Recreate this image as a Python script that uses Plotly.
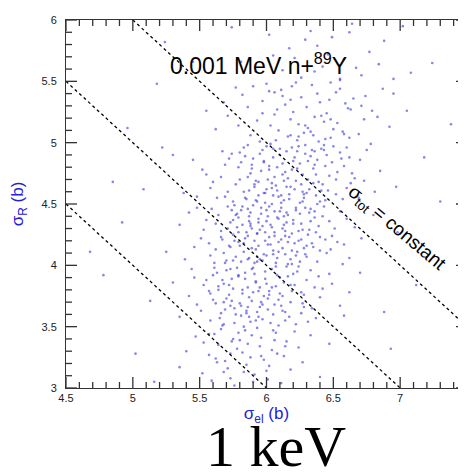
import numpy as np
import plotly.graph_objects as go

# ---- data ----
sigma_tot_const = [9.0, 10.0, 11.0]          # sigma_el + sigma_R = const lines
x_ticks = [4.5, 5, 5.5, 6, 6.5, 7, 7.5]
y_ticks = [3, 3.5, 4, 4.5, 5, 5.5, 6]

band_55_60 = [(6.42,5.62),(6.71,5.55),(6.05,5.71),(6.88,5.83),(6.33,5.91),(6.58,5.68),(5.92,5.58),(6.17,5.77),(6.95,5.52),(6.49,5.86),
              (6.26,5.53),(6.64,5.97),(5.81,5.66),(6.12,5.59),(6.77,5.74),(6.38,5.79),(6.55,5.51),(6.02,5.88),(6.84,5.64),(6.21,5.69),
              (5.74,5.94),(6.46,5.72),(6.67,5.61),(6.29,5.84),(7.08,5.57)]
band_50_55 = [(6.31,5.12),(6.08,5.27),(6.52,5.41),(5.88,5.06),(6.73,5.19),(6.19,5.46),(6.44,5.03),(5.97,5.34),(6.61,5.28),(6.26,5.37),
              (5.71,5.22),(6.87,5.44),(6.36,5.21),(6.03,5.14),(6.57,5.09),(6.14,5.31),(6.48,5.49),(5.82,5.39),(6.69,5.07),(6.23,5.02),
              (6.40,5.33),(5.93,5.18),(6.79,5.26),(6.11,5.43),(6.34,5.47),(5.62,5.11),(6.53,5.16),(6.00,5.48),(6.65,5.36),(6.28,5.08),
              (5.86,5.29),(6.45,5.24),(6.92,5.13),(6.16,5.05),(6.38,5.40),(5.77,5.45),(6.59,5.32),(6.06,5.23),(6.24,5.15),(6.74,5.38),
              (5.95,5.01),(6.50,5.11),(6.12,5.38),(6.83,5.21),(6.30,5.29),(5.68,5.33),(6.43,5.17),(6.02,5.42),(6.62,5.04),(6.20,5.25),
              (5.90,5.46),(6.55,5.44),(6.35,5.06),(6.09,5.10),(6.71,5.30),(5.79,5.14),(6.47,5.35),(6.18,5.19),(6.95,5.40),(5.55,5.26),
              (6.41,5.22),(6.18,5.35),(6.55,5.52),(6.29,5.14),(6.06,5.41),(6.63,5.27),(6.36,5.58),(5.97,5.24),(6.48,5.19),(6.22,5.49)]
band_45_50 = [(6.12,4.83),(5.87,4.61),(6.41,4.95),(5.66,4.72),(6.28,4.55),(6.05,4.88),(6.63,4.67),(5.93,4.52),(6.35,4.79),(6.18,4.64),
              (5.74,4.91),(6.52,4.58),(6.01,4.70),(6.24,4.97),(5.81,4.84),(6.47,4.73),(6.09,4.56),(5.58,4.63),(6.70,4.86),(6.32,4.62),
              (5.96,4.77),(6.15,4.93),(6.58,4.81),(5.85,4.54),(6.39,4.68),(6.03,4.99),(5.69,4.82),(6.27,4.74),(6.81,4.60),(6.11,4.51),
              (5.90,4.87),(6.44,4.53),(6.20,4.85),(5.77,4.66),(6.55,4.92),(6.07,4.65),(5.52,4.78),(6.33,4.89),(6.66,4.71),(5.99,4.59),
              (6.22,4.69),(5.83,4.96),(6.49,4.84),(6.14,4.76),(5.63,4.55),(6.37,4.57),(6.02,4.81),(6.75,4.94),(5.92,4.69),(6.29,4.91),
              (5.71,4.60),(6.60,4.63),(6.17,4.58),(5.88,4.75),(6.43,4.98),(6.06,4.72),(5.45,4.86),(6.26,4.66),(6.53,4.76),(5.97,4.94),
              (6.13,4.53),(5.79,4.80),(6.38,4.86),(6.00,4.62),(6.69,4.55),(5.86,4.98),(6.23,4.79),(5.60,4.68),(6.46,4.61),(6.10,4.90),
              (5.94,4.57),(6.31,4.70),(6.85,4.77),(5.75,4.52),(6.19,4.96),(6.57,4.54),(6.04,4.67),(5.84,4.89),(6.36,4.82),(5.67,4.93),
              (6.25,4.51),(6.62,4.88),(6.08,4.80),(5.91,4.64),(6.42,4.66),(5.38,4.59),(6.16,4.71),(6.73,4.69),(5.98,4.85),(6.30,4.59),
              (5.80,4.70),(6.50,4.97),(6.21,4.62),(5.72,4.87),(6.40,4.52),(6.05,4.95),(5.89,4.82),(6.64,4.75),(6.34,4.94),(5.55,4.74),
              (6.97,4.64),(5.30,4.90),(6.78,4.99),(5.48,4.56)]
core_46_51 = [(6.21,4.88),(6.04,4.63),(6.37,4.74),(5.95,4.91),(6.48,5.04),(6.13,4.69),(6.29,4.98),(5.86,4.72),(6.56,4.87),(6.18,5.06),
              (6.02,4.78),(6.41,4.61),(6.25,4.83),(5.91,4.66),(6.33,5.09),(6.10,4.95),(6.60,4.96),(5.83,4.60),(6.45,4.90),(6.15,4.64),
              (6.07,5.02),(6.35,4.67),(5.98,4.84),(6.52,4.70),(6.23,4.93),(6.39,5.01),(5.89,4.79),(6.12,4.74),(6.27,4.60),(6.44,4.81),
              (6.00,4.97),(6.31,4.85),(5.80,4.92),(6.19,4.78),(6.58,5.07),(6.08,4.61),(6.43,4.94),(6.24,5.05),(5.94,4.68),(6.36,4.93)]
band_40_45 = [(5.97,4.32),(6.21,4.18),(5.74,4.45),(6.08,4.06),(5.85,4.27),(6.36,4.39),(5.62,4.13),(6.02,4.48),(6.44,4.21),(5.91,4.02),
              (6.15,4.35),(5.79,4.19),(6.29,4.09),(5.55,4.37),(6.06,4.24),(5.88,4.43),(6.51,4.30),(5.70,4.04),(6.12,4.14),(5.94,4.38),
              (6.33,4.46),(5.66,4.28),(6.19,4.01),(5.82,4.33),(6.40,4.12),(5.99,4.20),(5.51,4.22),(6.25,4.42),(6.00,4.08),(5.76,4.49),
              (6.58,4.17),(5.93,4.26),(6.10,4.44),(5.68,4.10),(6.27,4.29),(5.86,4.05),(6.47,4.36),(6.04,4.31),(5.59,4.46),(6.17,4.23),
              (5.80,4.16),(6.38,4.03),(5.96,4.47),(6.23,4.11),(5.73,4.35),(6.09,4.19),(6.55,4.44),(5.89,4.30),(5.46,4.15),(6.31,4.25),
              (6.01,4.40),(5.77,4.07),(6.14,4.28),(6.62,4.06),(5.92,4.13),(5.64,4.41),(6.20,4.37),(5.84,4.22),(6.43,4.48),(6.07,4.02),
              (5.71,4.30),(6.35,4.15),(5.98,4.09),(6.26,4.34),(5.57,4.18),(6.11,4.47),(5.87,4.36),(6.49,4.24),(6.03,4.17),(5.78,4.42),
              (6.18,4.05),(5.95,4.29),(6.39,4.32),(5.67,4.21),(6.24,4.20),(5.90,4.49),(6.60,4.38),(6.05,4.12),(5.81,4.03),(6.32,4.43),
              (5.53,4.29),(6.13,4.33),(5.94,4.16),(6.28,4.14),(5.75,4.25),(6.45,4.10),(6.00,4.36),(5.83,4.11),(6.16,4.41),(5.62,4.34),
              (6.37,4.27),(5.97,4.04),(6.22,4.45),(5.72,4.16),(6.09,4.38),(6.53,4.19),(5.86,4.46),(6.30,4.07),(5.42,4.43),(6.02,4.23),
              (5.79,4.39),(6.19,4.26),(6.66,4.31),(5.93,4.07),(6.42,4.40),(5.69,4.02),(6.11,4.21),(5.88,4.32),(6.34,4.18),(6.06,4.44),
              (5.58,4.08),(6.25,4.03),(5.82,4.48),(6.48,4.13),(5.99,4.27),(6.71,4.22),(5.35,4.33),(6.14,4.09),(5.76,4.20),(6.29,4.47),
              (5.25,4.11),(6.80,4.41),(5.48,4.47),(6.57,4.01),(5.39,4.05)]
core_41_46 = [(5.96,4.42),(6.14,4.24),(5.78,4.31),(6.27,4.52),(5.89,4.14),(6.05,4.57),(6.33,4.36),(5.71,4.48),(6.19,4.12),(5.93,4.26),
              (6.08,4.39),(5.84,4.55),(6.40,4.23),(6.01,4.17),(5.75,4.37),(6.22,4.47),(5.98,4.59),(6.12,4.30),(5.87,4.40),(6.30,4.16),
              (5.66,4.23),(6.03,4.33),(6.17,4.54),(5.91,4.20),(6.36,4.44),(5.81,4.45),(6.09,4.11),(6.24,4.28),(5.73,4.15),(5.99,4.51),
              (6.15,4.43),(5.86,4.24),(6.28,4.58),(6.06,4.27),(5.69,4.56),(6.20,4.34),(5.94,4.35),(6.38,4.50),(5.79,4.27),(6.11,4.57),
              (6.00,4.45),(5.83,4.18),(6.26,4.21),(5.92,4.53),(6.16,4.19),(5.77,4.41),(6.04,4.50),(6.32,4.29),(5.88,4.34),(6.13,4.40)]
band_35_40 = [(5.86,3.82),(6.11,3.67),(5.63,3.94),(5.97,3.56),(6.30,3.88),(5.74,3.71),(6.04,3.97),(5.51,3.63),(6.22,3.52),(5.90,3.78),
              (5.68,3.85),(6.16,3.91),(5.81,3.59),(6.40,3.74),(5.95,3.66),(5.57,3.79),(6.07,3.83),(5.78,3.98),(6.26,3.61),(5.88,3.54),
              (6.47,3.93),(5.65,3.57),(6.01,3.73),(5.84,3.89),(6.19,3.79),(5.46,3.90),(5.93,3.62),(6.34,3.65),(5.72,3.76),(6.09,3.51),
              (5.80,3.69),(6.13,3.86),(5.60,3.72),(5.99,3.95),(6.37,3.57),(5.76,3.53),(6.24,3.99),(5.87,3.74),(5.53,3.84),(6.05,3.60),
              (5.69,3.64),(6.18,3.70),(5.92,3.87),(6.42,3.81),(5.83,3.50),(6.02,3.79),(5.61,3.98),(6.28,3.76),(5.75,3.81),(5.96,3.70),
              (6.14,3.55),(5.48,3.68),(6.33,3.96),(5.85,3.63),(6.08,3.92),(5.66,3.61),(5.94,3.58),(6.21,3.84),(5.79,3.92),(6.55,3.67),
              (5.58,3.55),(6.00,3.85),(5.89,3.97),(6.12,3.63),(5.73,3.67),(6.39,3.91),(5.42,3.75),(6.03,3.53),(5.82,3.77),(6.27,3.69),
              (5.64,3.80),(6.17,3.58),(5.91,3.93),(5.70,3.96),(6.06,3.68),(6.49,3.85),(5.55,3.88),(5.98,3.75),(6.23,3.95),(5.77,3.60),
              (5.35,3.58),(6.10,3.77),(5.86,3.66),(6.31,3.54),(5.62,3.69),(6.62,3.78),(5.95,3.82),(5.30,3.86),(6.15,3.99),(5.74,3.89),
              (6.58,3.59),(5.44,3.97),(6.36,3.82),(5.67,3.51),(6.70,3.94)]
core_36_41 = [(5.84,3.94),(6.02,3.76),(5.67,3.88),(5.95,4.05),(6.18,3.84),(5.76,3.65),(6.07,3.99),(5.89,3.71),(5.61,4.02),(6.14,3.62),
              (5.92,3.86),(5.73,3.97),(6.22,4.08),(5.82,3.80),(6.01,3.64),(5.58,3.77),(6.10,3.90),(5.87,4.06),(5.70,3.73),(6.26,3.78),
              (5.97,3.68),(5.79,3.91),(6.05,4.09),(5.64,3.83),(5.94,3.79),(6.16,4.01),(5.85,3.61),(5.75,4.04),(6.09,3.72),(5.90,3.98),
              (5.68,3.70),(6.20,3.93),(5.99,3.89),(5.81,3.67),(6.04,3.82),(5.60,3.92),(6.12,3.75),(5.93,4.03),(5.72,3.84),(6.28,3.66)]
band_30_35 = [(5.78,3.32),(6.02,3.18),(5.61,3.44),(5.90,3.05),(6.15,3.38),(5.69,3.22),(5.84,3.47),(6.08,3.28),(5.52,3.12),(5.96,3.41),
              (5.73,3.08),(6.21,3.46),(5.88,3.25),(5.64,3.35),(6.00,3.14),(5.80,3.39),(6.27,3.21),(5.57,3.27),(5.93,3.49),(5.71,3.16),
              (6.11,3.04),(5.86,3.36),(5.47,3.42),(6.04,3.31),(5.76,3.02),(5.98,3.23),(6.33,3.43),(5.66,3.48),(5.91,3.11),(5.82,3.29),
              (6.18,3.15),(5.59,3.06),(6.07,3.45),(5.75,3.40),(5.40,3.30),(5.95,3.34),(6.40,3.09),(5.68,3.13),(6.13,3.26),(5.85,3.19),
              (5.53,3.37),(6.24,3.33),(5.79,3.45),(6.01,3.07),(5.62,3.24),(5.89,3.43),(6.47,3.36),(5.35,3.17),(6.06,3.39),(5.73,3.28),
              (5.74,3.38),(5.92,3.55),(5.63,3.21),(6.05,3.47),(5.83,3.13),(5.68,3.52),(6.14,3.34),(5.96,3.26),(5.57,3.44),(5.87,3.58)]
outliers = [(4.92,4.35),(4.78,3.92),(5.08,4.62),(5.13,3.71),(4.96,5.12),(5.18,5.48),(7.18,4.88),(7.05,5.26),(6.98,4.27),(7.24,5.65),
            (7.12,3.84),(5.02,3.28),(4.85,4.68),(6.88,3.62),(7.30,4.52),(5.24,5.82),(7.02,5.95),(4.68,4.11),(6.93,3.32),(5.16,3.05),
            (6.62,5.90),(5.45,5.66),(7.38,5.15),(5.22,4.96)]

points = (band_55_60 + band_50_55 + band_45_50 + core_46_51 + band_40_45 + core_41_46
          + band_35_40 + core_36_41 + band_30_35 + outliers)
sigma_el = [p[0] for p in points]
sigma_R = [p[1] for p in points]

XMIN, XMAX, YMIN, YMAX = 4.5, 7.5, 3.0, 6.0
W, H = 466, 474
ML, MR, MT, MB = 58, 7, 12, 94
px_x = (W - ML - MR) / (XMAX - XMIN)   # pixels per x unit
px_y = (H - MT - MB) / (YMAX - YMIN)   # pixels per y unit

fig = go.Figure()
fig.add_trace(go.Scatter(
    x=sigma_el, y=sigma_R, mode="markers",
    marker=dict(size=2.6, color="rgba(55,55,215,0.6)", line=dict(width=0)),
    hoverinfo="skip", showlegend=False))

# sigma_tot = constant lines, clipped to the frame
for tot in sigma_tot_const:
    x0 = max(XMIN, tot - YMAX)
    x1 = min(XMAX, tot - YMIN)
    fig.add_trace(go.Scatter(
        x=[x0, x1], y=[tot - x0, tot - x1], mode="lines",
        line=dict(color="black", width=1.3, dash="dot"),
        hoverinfo="skip", showlegend=False))

axcol = "#333"
# inside tick marks on all four sides (major every 0.5, minor every 0.1)
MAJ, MIN_ = 11, 6
x_minor = np.round(np.arange(XMIN, XMAX + 1e-9, 0.1), 2)
y_minor = np.round(np.arange(YMIN, YMAX + 1e-9, 0.1), 2)
tx, ty = [], []
for xv in x_minor:
    L = (MAJ if any(abs(xv - t) < 1e-6 for t in x_ticks) else MIN_) / px_y
    tx += [xv, xv, None, xv, xv, None]
    ty += [YMIN, YMIN + L, None, YMAX, YMAX - L, None]
for yv in y_minor:
    L = (MAJ if any(abs(yv - t) < 1e-6 for t in y_ticks) else MIN_) / px_x
    tx += [XMIN, XMIN + L, None, XMAX, XMAX - L, None]
    ty += [yv, yv, None, yv, yv, None]
fig.add_trace(go.Scatter(x=tx, y=ty, mode="lines", line=dict(color=axcol, width=1.3),
                         hoverinfo="skip", showlegend=False, connectgaps=False))

tickfont = dict(family="Liberation Sans, Arial, sans-serif", size=11, color="#222")
blue = "#2222dd"
titlefont = dict(family="Liberation Sans, Arial, sans-serif", size=17, color=blue)

fig.update_layout(
    width=W, height=H,
    margin=dict(l=ML, r=MR, t=MT, b=MB),
    paper_bgcolor="white", plot_bgcolor="white",
    showlegend=False,
    xaxis=dict(range=[XMIN, XMAX], tickmode="array", tickvals=x_ticks, ticktext=[f"{v:g}" for v in x_ticks],
               showgrid=False, zeroline=False, showline=True, linecolor=axcol, linewidth=1,
               mirror=True, ticks="", tickfont=tickfont, automargin=False,
               title=dict(text="σ<sub>el</sub> (b)", font=titlefont, standoff=3)),
    yaxis=dict(range=[YMIN, YMAX], tickmode="array", tickvals=y_ticks, ticktext=[f"{v:g}" for v in y_ticks],
               showgrid=False, zeroline=False, showline=True, linecolor=axcol, linewidth=1,
               mirror=True, ticks="", tickfont=tickfont, ticklabelstandoff=6, automargin=False,
               title=dict(text="σ<sub>R</sub> (b)", font=titlefont, standoff=14)),
)

fig.add_annotation(x=5.94, y=5.64, xref="x", yref="y", showarrow=False,
                   text="0.001 MeV n+<sup>89</sup>Y",
                   font=dict(family="Liberation Sans, Arial, sans-serif", size=23, color="black"))
fig.add_annotation(x=6.975, y=4.295, xref="x", yref="y", showarrow=False,
                   text="σ<sub>tot</sub> = constant", textangle=40,
                   font=dict(family="Liberation Sans, Arial, sans-serif", size=19, color="black"))
fig.add_annotation(x=0.523, y=-0.16, xref="paper", yref="paper", showarrow=False,
                   text="1 keV", yanchor="middle",
                   font=dict(family="Liberation Serif, Times New Roman, serif", size=58, color="black"))

fig.write_html("out.html")
